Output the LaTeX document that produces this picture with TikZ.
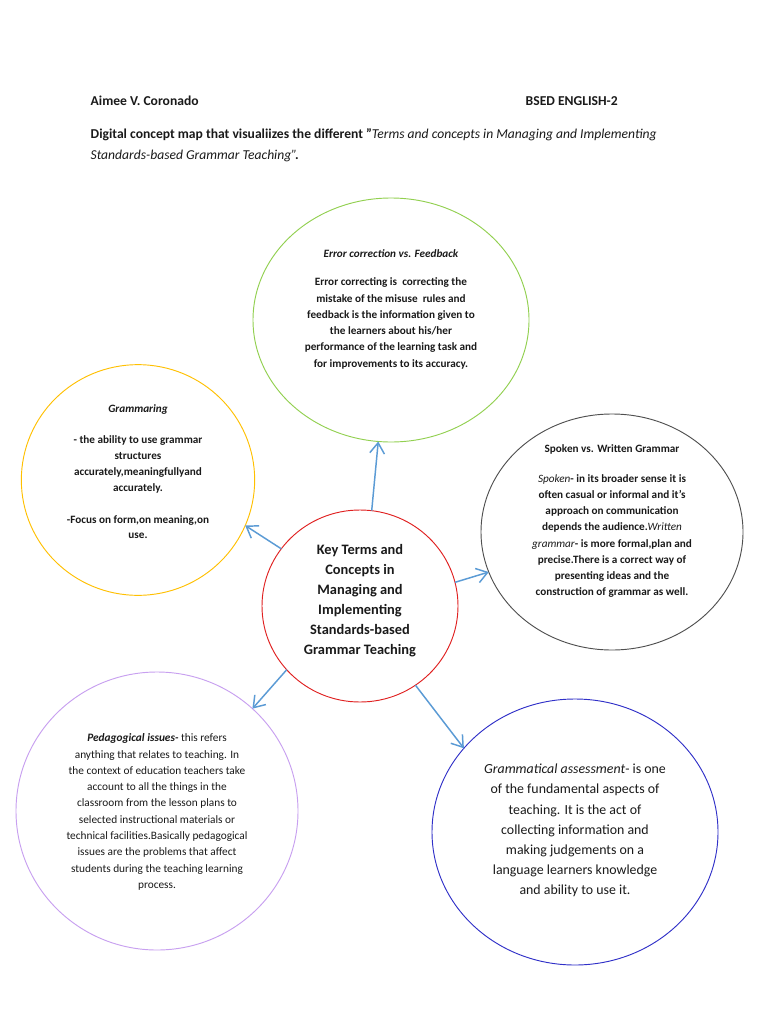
\documentclass[tikz,border=0pt]{standalone}
\usepackage{fontspec}
\setmainfont{Carlito}
\usetikzlibrary{arrows.meta,shapes.geometric}
\definecolor{cgreen}{HTML}{92D050}
\definecolor{cyellow}{HTML}{FFC000}
\definecolor{cgray}{HTML}{505050}
\definecolor{cred}{HTML}{E02020}
\definecolor{cpurple}{HTML}{C8A0F0}
\definecolor{cblue}{HTML}{3030C8}
\definecolor{carrow}{HTML}{5B9BD5}
\definecolor{ctext}{HTML}{1A1A1A}
\begin{document}
\begin{tikzpicture}[x=0.75pt,y=-0.75pt,
  bubble/.style={ellipse, draw, line width=0.7pt, inner sep=0pt, outer sep=0pt},
  link/.style={draw=carrow, line width=1.1pt, -{Straight Barb[length=8pt,width=11pt,line width=1.1pt]}},
  small/.style={align=center, text=ctext, font=\fontsize{8.4}{12.2}\selectfont},
  smallb/.style={small, font=\fontsize{8.4}{12.2}\selectfont\bfseries},
  big/.style={align=center, text=ctext, font=\fontsize{10.4}{15.1}\selectfont},
  head/.style={anchor=west, text=ctext, font=\fontsize{10.2}{15.8}\selectfont\bfseries}]
\useasboundingbox (0,0) rectangle (768,1024);
\fill[white] (0,0) rectangle (768,1024);

% header
\node[head] (author) at (86,101) {Aimee V. Coronado};
\node[head] (course) at (521,101) {BSED ENGLISH-2};
\node[head, align=left] (title) at (86,145.5) {Digital concept map that visualiizes the different \char34{\itshape\mdseries Terms and concepts in Managing and Implementing}\\{\itshape\mdseries Standards-based Grammar Teaching\char34}\kern-1.5pt.};

% bubbles
\node[bubble, draw=cgreen, minimum width=207pt, minimum height=183pt] (err) at (391,320) {};
\node[bubble, draw=cyellow, minimum width=175pt, minimum height=173pt] (gram) at (138,480) {};
\node[bubble, draw=cgray, minimum width=196.5pt, minimum height=177pt] (spok) at (612,532) {};
\node[bubble, draw=cred, minimum width=147pt, minimum height=144pt] (ctr) at (360,606) {};
\node[bubble, draw=cpurple, minimum width=211.5pt, minimum height=208.5pt] (ped) at (157,811) {};
\node[bubble, draw=cblue, minimum width=214.5pt, minimum height=199.5pt] (ass) at (575,832) {};

% texts
\node[smallb, font=\fontsize{8.4}{12.2}\selectfont\bfseries\itshape] (errt) at (391,254) {Error correction vs. Feedback};
\node[smallb] (errb) at (391,323.5) {Error correcting is\ \ correcting the\\mistake of the misuse\ \ rules and\\feedback is the information given to\\the learners about his/her\\performance of the learning task and\\for improvements to its accuracy.};

\node[smallb, font=\fontsize{8.4}{12.2}\selectfont\bfseries\itshape] (gramt) at (138,410) {Grammaring};
\node[smallb, font=\fontsize{8.4}{11.8}\selectfont\bfseries] (gramb) at (138,464.5) {- the ability to use grammar\\structures\\accurately,meaningfullyand\\accurately.};
\node[smallb, font=\fontsize{8.4}{11.8}\selectfont\bfseries] (gramc) at (138,527) {-Focus on form,on meaning,on\\use.};

\node[smallb] (spokt) at (612,449) {Spoken vs. Written Grammar};
\node[smallb] (spokb) at (612,536) {\textit{\mdseries Spoken}- in its broader sense it is\\often casual or informal and it's\\approach on communication\\depends the audience.\textit{\mdseries Written}\\\textit{\mdseries grammar}- is more formal,plan and\\precise.There is a correct way of\\presenting ideas and the\\construction of grammar as well.};

\node[align=center, text=ctext, font=\fontsize{10.8}{15}\selectfont\bfseries] (ctrt) at (360,601) {Key Terms and\\Concepts in\\Managing and\\Implementing\\Standards-based\\Grammar Teaching};

\node[small, font=\fontsize{8.5}{12.2}\selectfont] (pedb) at (157,812) {\textbf{\textit{Pedagogical issues-}} this refers\\anything that relates to teaching. In\\the context of education teachers take\\account to all the things in the\\classroom from the lesson plans to\\selected instructional materials or\\technical facilities.Basically pedagogical\\issues are the problems that affect\\students during the teaching learning\\process.};

\node[big] (assb) at (575,830.5) {\textit{Grammatical assessment}- is one\\of the fundamental aspects of\\teaching. It is the act of\\collecting information and\\making judgements on a\\language learners knowledge\\and ability to use it.};

% connectors
\draw[link] (ctr.83.5) -- (err.264.4);
\draw[link] (ctr.144.6) -- (gram.337.7);
\draw[link] (ctr.14) -- (spok.198.9);
\draw[link] (ctr.221.7) -- (ped.47.9);
\draw[link] (ctr.305) -- (ass.143.9);
\end{tikzpicture}
\end{document}
